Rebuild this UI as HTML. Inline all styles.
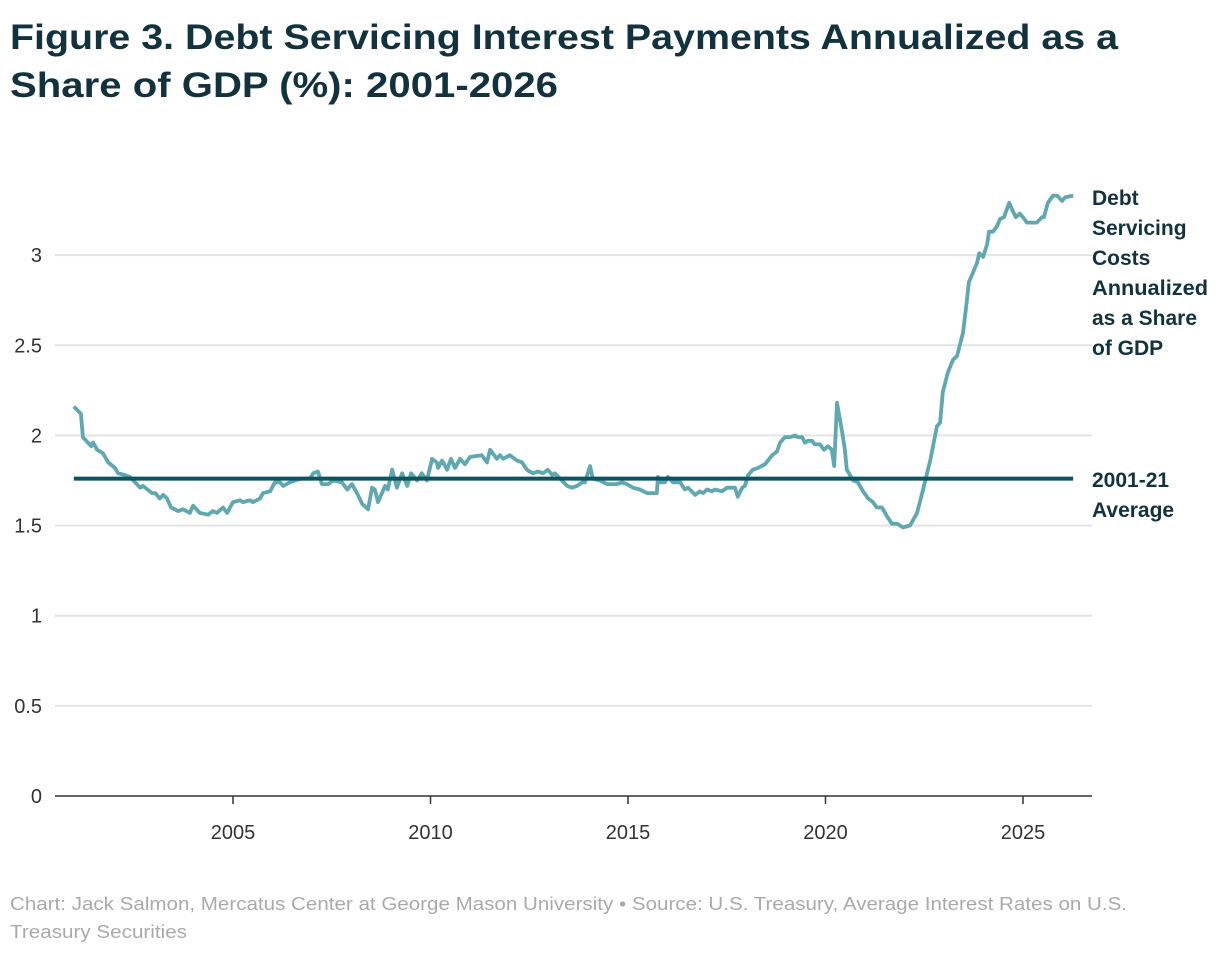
<!DOCTYPE html>
<html><head><meta charset="utf-8"><style>
body{margin:0;background:#fff;}
svg{display:block;font-family:"Liberation Sans",sans-serif;}
</style></head><body>
<svg id="chart" width="1220" height="954" viewBox="0 0 1220 954">
<text x="10" y="49" font-size="35" font-weight="bold" fill="#12333d" textLength="1108" lengthAdjust="spacingAndGlyphs">Figure 3. Debt Servicing Interest Payments Annualized as a</text>
<text x="10" y="97" font-size="35" font-weight="bold" fill="#12333d" textLength="548" lengthAdjust="spacingAndGlyphs">Share of GDP (%): 2001-2026</text>
<g id="grid"></g><g id="yticks"></g><g id="xticks"></g><g id="series"></g>
<g font-size="21" font-weight="bold" fill="#12333d">
<text x="1092" y="205">Debt</text><text x="1092" y="235">Servicing</text><text x="1092" y="265">Costs</text><text x="1092" y="295" textLength="116" lengthAdjust="spacingAndGlyphs">Annualized</text><text x="1092" y="325" textLength="105" lengthAdjust="spacingAndGlyphs">as a Share</text><text x="1092" y="355">of GDP</text>
</g>
<g font-size="21" font-weight="bold" fill="#12333d">
<text x="1092" y="487">2001-21</text><text x="1092" y="517">Average</text>
</g>
<text x="10" y="910" font-size="18" fill="#aaaaaa" textLength="1117" lengthAdjust="spacingAndGlyphs">Chart: Jack Salmon, Mercatus Center at George Mason University • Source: U.S. Treasury, Average Interest Rates on U.S.</text>
<text x="10" y="938" font-size="18" fill="#aaaaaa" textLength="177" lengthAdjust="spacingAndGlyphs">Treasury Securities</text>
</svg>
<script>
const years=[2000.97,2001.15,2001.20,2001.41,2001.46,2001.56,2001.71,2001.84,2002.01,2002.09,2002.27,2002.39,2002.65,2002.72,2002.95,2003.03,2003.15,2003.23,2003.33,2003.43,2003.61,2003.73,2003.91,2003.99,2004.16,2004.37,2004.49,2004.59,2004.75,2004.85,2005.00,2005.18,2005.25,2005.43,2005.51,2005.68,2005.76,2005.94,2006.06,2006.19,2006.27,2006.44,2006.70,2006.95,2007.03,2007.15,2007.25,2007.41,2007.53,2007.76,2007.89,2008.01,2008.14,2008.27,2008.42,2008.52,2008.59,2008.67,2008.85,2008.92,2009.03,2009.15,2009.28,2009.41,2009.51,2009.66,2009.78,2009.91,2010.04,2010.16,2010.19,2010.29,2010.42,2010.52,2010.62,2010.75,2010.87,2011.00,2011.30,2011.43,2011.51,2011.68,2011.76,2011.84,2012.01,2012.19,2012.32,2012.44,2012.59,2012.72,2012.85,2012.97,2013.08,2013.15,2013.28,2013.46,2013.58,2013.71,2013.84,2013.91,2014.04,2014.11,2014.29,2014.47,2014.72,2014.85,2014.97,2015.13,2015.30,2015.48,2015.73,2015.76,2015.81,2015.94,2016.01,2016.14,2016.32,2016.44,2016.52,2016.70,2016.82,2016.90,2017.00,2017.13,2017.20,2017.38,2017.51,2017.63,2017.71,2017.78,2017.89,2017.96,2018.04,2018.16,2018.29,2018.47,2018.65,2018.77,2018.85,2018.97,2019.10,2019.23,2019.30,2019.41,2019.48,2019.56,2019.66,2019.73,2019.86,2019.96,2020.06,2020.16,2020.22,2020.29,2020.42,2020.49,2020.54,2020.70,2020.82,2020.95,2021.08,2021.20,2021.30,2021.43,2021.56,2021.68,2021.81,2021.96,2022.14,2022.32,2022.47,2022.65,2022.82,2022.90,2022.97,2023.10,2023.23,2023.33,2023.48,2023.56,2023.63,2023.73,2023.84,2023.89,2023.99,2024.09,2024.14,2024.24,2024.34,2024.42,2024.52,2024.65,2024.75,2024.82,2024.92,2025.00,2025.10,2025.35,2025.48,2025.53,2025.63,2025.76,2025.86,2025.99,2026.06,2026.27];
const values=[2.16,2.12,1.99,1.94,1.96,1.92,1.90,1.85,1.82,1.79,1.78,1.77,1.71,1.72,1.68,1.68,1.65,1.67,1.65,1.60,1.58,1.59,1.57,1.61,1.57,1.56,1.58,1.57,1.60,1.57,1.63,1.64,1.63,1.64,1.63,1.65,1.68,1.69,1.74,1.74,1.72,1.74,1.76,1.76,1.79,1.80,1.73,1.73,1.75,1.74,1.70,1.73,1.68,1.62,1.59,1.71,1.70,1.63,1.72,1.70,1.81,1.71,1.79,1.72,1.79,1.75,1.79,1.75,1.87,1.85,1.82,1.86,1.81,1.87,1.82,1.87,1.84,1.88,1.89,1.85,1.92,1.87,1.89,1.87,1.89,1.86,1.85,1.81,1.79,1.80,1.79,1.81,1.78,1.79,1.76,1.72,1.71,1.72,1.74,1.74,1.83,1.76,1.75,1.73,1.73,1.74,1.73,1.71,1.70,1.68,1.68,1.77,1.74,1.74,1.77,1.74,1.74,1.70,1.71,1.67,1.69,1.68,1.70,1.69,1.70,1.69,1.71,1.71,1.71,1.66,1.71,1.72,1.78,1.81,1.82,1.84,1.89,1.91,1.96,1.99,1.99,2.00,1.99,1.99,1.96,1.97,1.97,1.95,1.95,1.92,1.94,1.92,1.83,2.18,2.02,1.92,1.81,1.75,1.74,1.69,1.65,1.63,1.60,1.60,1.55,1.51,1.51,1.49,1.50,1.57,1.70,1.86,2.05,2.07,2.24,2.35,2.42,2.44,2.57,2.71,2.85,2.90,2.96,3.01,2.99,3.06,3.13,3.13,3.16,3.20,3.21,3.29,3.24,3.21,3.23,3.21,3.18,3.18,3.21,3.21,3.29,3.33,3.33,3.30,3.32,3.33];
const average=1.76;
const yTicks=[0,0.5,1,1.5,2,2.5,3];
const yTickLabels=["0","0.5","1","1.5","2","2.5","3"];
const xTicks=[2005,2010,2015,2020,2025];
const NS="http://www.w3.org/2000/svg";
const X=y=>233+(y-2005)*39.5;
const Y=v=>796-v*180.3;
function mk(tag,attrs,parent){const e=document.createElementNS(NS,tag);for(const k in attrs)e.setAttribute(k,attrs[k]);parent.appendChild(e);return e;}
const grid=document.getElementById('grid'),yt=document.getElementById('yticks'),xt=document.getElementById('xticks'),ser=document.getElementById('series');
yTicks.forEach((v,i)=>{
 if(v>0){const l=mk('line',{x1:55,x2:1092,y1:Y(v),y2:Y(v),stroke:'#e3e3e3','stroke-width':2},grid);
 
 }
 const t=mk('text',{x:42,y:Y(v)+7,'text-anchor':'end','font-size':20,fill:'#333'},yt);t.textContent=yTickLabels[i];
 
 
});
const ax=mk('line',{x1:55,x2:1092,y1:796,y2:796,stroke:'#333','stroke-width':1.5},grid);


xTicks.forEach(y=>{
 const tk=mk('line',{x1:X(y),x2:X(y),y1:796,y2:804,stroke:'#333','stroke-width':1.5},xt);
 
 
 const t=mk('text',{x:X(y),y:839,'text-anchor':'middle','font-size':20,fill:'#333'},xt);t.textContent=y;
 
 
});
const d=years.map((y,i)=>(i?'L':'M')+X(y).toFixed(1)+','+Y(values[i]).toFixed(1)).join('');
const p=mk('path',{d:d,fill:'none',stroke:'#5fa8b0','stroke-width':3.8,'stroke-linejoin':'round'},ser);


const a=mk('line',{x1:X(years[0]),x2:X(years[years.length-1]),y1:Y(average),y2:Y(average),stroke:'#0b5560','stroke-width':4},ser);


</script>
</body></html>
